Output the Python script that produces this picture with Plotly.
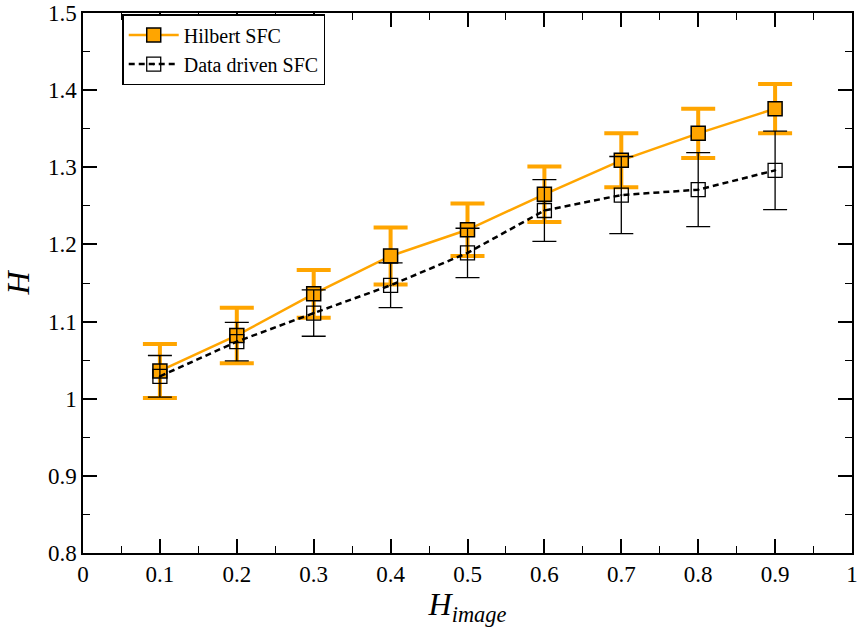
import plotly.graph_objects as go

# Hurst exponent of the curve vs. Hurst exponent of the image
h_image = [0.1, 0.2, 0.3, 0.4, 0.5, 0.6, 0.7, 0.8, 0.9]

hilbert_h = [1.036, 1.082, 1.136, 1.185, 1.219, 1.265, 1.309, 1.344, 1.376]
hilbert_err = [0.035, 0.036, 0.031, 0.037, 0.034, 0.036, 0.035, 0.032, 0.032]

datadriven_h = [1.029, 1.074, 1.111, 1.147, 1.189, 1.244, 1.264, 1.271, 1.296]
datadriven_err = [0.027, 0.025, 0.030, 0.029, 0.032, 0.040, 0.050, 0.048, 0.051]

x_ticks = [0, 0.1, 0.2, 0.3, 0.4, 0.5, 0.6, 0.7, 0.8, 0.9, 1]
x_tick_text = ["0", "0.1", "0.2", "0.3", "0.4", "0.5", "0.6", "0.7", "0.8", "0.9", "1"]
y_ticks = [0.8, 0.9, 1.0, 1.1, 1.2, 1.3, 1.4, 1.5]
y_tick_text = ["0.8", "0.9", "1", "1.1", "1.2", "1.3", "1.4", "1.5"]

ORANGE = "#FFA500"
SERIF = "Liberation Serif, Times New Roman, serif"

fig = go.Figure()

fig.add_trace(go.Scatter(
    x=h_image, y=hilbert_h,
    mode="lines+markers",
    name="Hilbert SFC",
    line=dict(color=ORANGE, width=2.5),
    marker=dict(symbol="square", size=14, color=ORANGE,
                line=dict(color="black", width=1.5)),
    error_y=dict(type="data", array=hilbert_err, visible=True,
                 color=ORANGE, thickness=4, width=17),
))

fig.add_trace(go.Scatter(
    x=h_image, y=datadriven_h,
    mode="lines+markers",
    name="Data driven SFC",
    line=dict(color="black", width=2.5, dash="6px,4px"),
    marker=dict(symbol="square-open-dot", size=14, color="black",
                line=dict(color="black", width=1.3)),
    error_y=dict(type="data", array=datadriven_err, visible=True,
                 color="black", thickness=1.3, width=12),
))

tick_font = dict(family=SERIF, size=23, color="black")

axis_common = dict(
    showgrid=False, zeroline=False, automargin=False,
    showline=True, linecolor="black", linewidth=1.5,
    mirror="ticks", ticks="inside", ticklen=14, tickwidth=1.5,
    tickcolor="black",
)

fig.update_xaxes(
    range=[0, 1], tickvals=x_ticks, ticktext=x_tick_text,
    tickfont=tick_font,
    minor=dict(dtick=0.05, tick0=0, ticks="inside", ticklen=7,
               tickwidth=1.2, tickcolor="black", showgrid=False),
    title=dict(text="<i>H</i><sub><i>image</i></sub>",
               font=dict(family=SERIF, size=32, color="black"), standoff=2),
    **axis_common,
)
fig.update_yaxes(
    range=[0.8, 1.5], tickvals=y_ticks, ticktext=y_tick_text,
    tickfont=tick_font,
    minor=dict(dtick=0.05, tick0=0.8, ticks="inside", ticklen=7,
               tickwidth=1.2, tickcolor="black", showgrid=False),
    title=dict(text="<i>H</i>",
               font=dict(family=SERIF, size=32, color="black"), standoff=14),
    **axis_common,
)

fig.update_layout(
    width=861, height=627,
    font=dict(family=SERIF, color="black"),
    margin=dict(l=83, r=9, t=13, b=74),
    plot_bgcolor="white", paper_bgcolor="white",
    showlegend=True,
    legend=dict(
        x=0.051, y=0.998, xanchor="left", yanchor="top",
        bgcolor="white", bordercolor="black", borderwidth=1.5,
        font=dict(family=SERIF, size=20, color="black"),
        tracegroupgap=0, itemwidth=50,
    ),
)

fig.write_html("out.html")
